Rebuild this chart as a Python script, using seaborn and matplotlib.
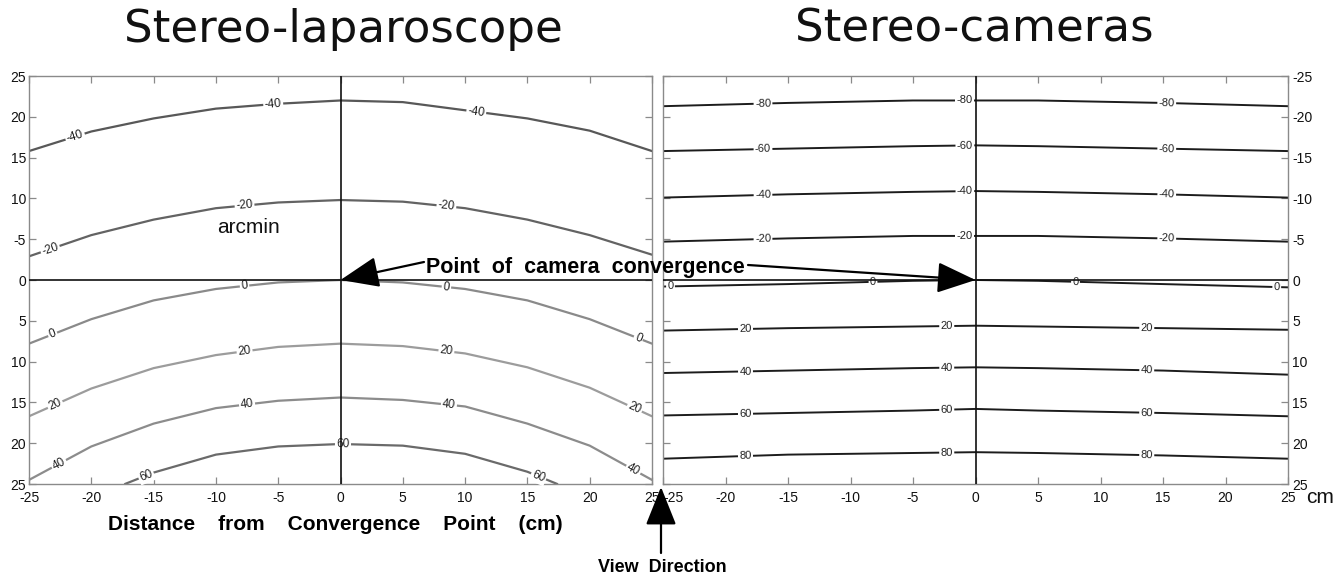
import numpy as np
import pandas as pd
import matplotlib
matplotlib.use("Agg")
import matplotlib.pyplot as plt
from matplotlib.patches import FancyArrowPatch
import seaborn as sns

# ---------------------------------------------------------------------------
# Iso-disparity contours (arcmin); depth positions in cm along the lateral axis
# ---------------------------------------------------------------------------
X_GRID = [-25, -20, -15, -10, -5, 0, 5, 10, 15, 20, 25]

LAP_LEVELS = [-40, -20, 0, 20, 40, 60]
LAP_M40 = [-15.8, -18.2, -19.8, -21.0, -21.6, -22.0, -21.8, -20.8, -19.8, -18.3, -15.8]
LAP_M20 = [-2.9, -5.5, -7.4, -8.8, -9.5, -9.8, -9.6, -8.8, -7.4, -5.5, -3.1]
LAP_0 = [7.8, 4.8, 2.5, 1.1, 0.3, 0.0, 0.3, 1.1, 2.5, 4.8, 7.8]
LAP_20 = [16.7, 13.3, 10.8, 9.2, 8.2, 7.8, 8.1, 9.0, 10.7, 13.2, 16.7]
LAP_40 = [24.5, 20.4, 17.6, 15.7, 14.8, 14.4, 14.7, 15.5, 17.6, 20.3, 24.5]
LAP_60_X = [-17.3, -15, -10, -5, 0, 5, 10, 15, 17.4]
LAP_60 = [25.0, 23.6, 21.4, 20.4, 20.1, 20.3, 21.3, 23.5, 25.0]

# where each laparoscope contour carries its inline value
LAP_LABEL_X = {
    -40: [-21.3, -5.4, 10.9],
    -20: [-23.3, -7.7, 8.5],
    0: [-23.1, -7.7, 8.5, 23.9],
    20: [-22.9, -7.7, 8.5, 23.6],
    40: [-22.6, -7.5, 8.7, 23.5],
    60: [-15.6, 0.2, 15.9],
}

CAM_X = [-25, -15, -5, 0, 5, 15, 25]
CAM_LEVELS = [-80, -60, -40, -20, 0, 20, 40, 60, 80]
CAM_M80 = [-21.3, -21.7, -22.0, -22.0, -22.0, -21.7, -21.3]
CAM_M60 = [-15.8, -16.1, -16.4, -16.5, -16.4, -16.1, -15.8]
CAM_M40 = [-10.1, -10.5, -10.8, -10.9, -10.8, -10.5, -10.1]
CAM_M20 = [-4.7, -5.1, -5.4, -5.4, -5.4, -5.1, -4.7]
CAM_0 = [0.8, 0.5, 0.1, 0.0, 0.1, 0.5, 0.9]
CAM_20 = [6.2, 5.9, 5.7, 5.6, 5.7, 5.9, 6.1]
CAM_40 = [11.4, 11.1, 10.8, 10.7, 10.8, 11.1, 11.6]
CAM_60 = [16.6, 16.3, 16.0, 15.8, 16.0, 16.3, 16.7]
CAM_80 = [21.9, 21.4, 21.2, 21.1, 21.2, 21.5, 21.9]

CAM_LABEL_X_NEG = [-17.0, -0.85, 15.3]
CAM_LABEL_X_POS = [-18.4, -2.3, 13.7]
CAM_LABEL_X_ZERO = [-24.4, -8.2, 8.0, 24.1]

TICKS = [-25, -20, -15, -10, -5, 0, 5, 10, 15, 20, 25]
LAP_YTICKLABELS = ["25", "20", "15", "10", "-5", "0", "5", "10", "15", "20", "25"]
CAM_YTICKLABELS = ["-25", "-20", "-15", "-10", "-5", "0", "5", "10", "15", "20", "25"]
XTICKLABELS = ["-25", "-20", "-15", "-10", "-5", "0", "5", "10", "15", "20", "25"]

TITLES = ["Stereo-laparoscope", "Stereo-cameras"]

# ---------------------------------------------------------------------------
lap_rows = [(X_GRID, LAP_M40, -40), (X_GRID, LAP_M20, -20), (X_GRID, LAP_0, 0),
            (X_GRID, LAP_20, 20), (X_GRID, LAP_40, 40), (LAP_60_X, LAP_60, 60)]
cam_rows = [(CAM_X, CAM_M80, -80), (CAM_X, CAM_M60, -60), (CAM_X, CAM_M40, -40),
            (CAM_X, CAM_M20, -20), (CAM_X, CAM_0, 0), (CAM_X, CAM_20, 20),
            (CAM_X, CAM_40, 40), (CAM_X, CAM_60, 60), (CAM_X, CAM_80, 80)]


def tidy(rows):
    frames = [pd.DataFrame({"x": xs, "depth": ys, "level": lev}) for xs, ys, lev in rows]
    return pd.concat(frames, ignore_index=True)


lap_df = tidy(lap_rows)
cam_df = tidy(cam_rows)

sns.set_theme(style="white")
plt.rcParams["font.family"] = ["Liberation Sans", "DejaVu Sans"]

W, H = 1344, 577
fig = plt.figure(figsize=(W / 100, H / 100), dpi=100)
ax_l = fig.add_axes([29 / W, 1 - 484 / H, 623 / W, 408 / H])
ax_r = fig.add_axes([663 / W, 1 - 484 / H, 625 / W, 408 / H])

lap_palette = {-40: "#585858", -20: "#636363", 0: "#8a8a8a", 20: "#9c9c9c",
               40: "#8c8c8c", 60: "#6a6a6a"}
cam_palette = {lev: "#1c1c1c" for lev in CAM_LEVELS}

sns.lineplot(data=lap_df, x="x", y="depth", hue="level", palette=lap_palette,
             units="level", estimator=None, sort=False, legend=False,
             linewidth=1.6, ax=ax_l)
sns.lineplot(data=cam_df, x="x", y="depth", hue="level", palette=cam_palette,
             units="level", estimator=None, sort=False, legend=False,
             linewidth=1.4, ax=ax_r)

for ax in (ax_l, ax_r):
    ax.set_xlim(-25, 25)
    ax.set_ylim(25, -25)
    ax.set_xlabel("")
    ax.set_ylabel("")
    ax.set_xticks(TICKS)
    ax.set_xticklabels(XTICKLABELS)
    ax.set_yticks(TICKS)
    for sp in ax.spines.values():
        sp.set_color("#8a8a8a")
        sp.set_linewidth(1.0)
    ax.tick_params(direction="in", length=5, width=0.9, color="#8a8a8a",
                   top=True, bottom=True, left=True, right=True,
                   labelsize=10, labelcolor="#111111")
    ax.tick_params(axis="x", pad=5)
    # crosshair through the convergence point
    ax.axhline(0, color="#111111", lw=1.2, zorder=4)
    ax.axvline(0, color="#111111", lw=1.2, zorder=4)

ax_l.set_yticklabels(LAP_YTICKLABELS)
ax_l.tick_params(axis="y", pad=2)
ax_r.set_yticklabels(CAM_YTICKLABELS)
ax_r.tick_params(axis="y", labelleft=False, labelright=True, pad=3)
# keep the first lateral label of the right panel clear of its neighbour
ax_r.get_xticklabels()[0].set_horizontalalignment("left")


def inline_labels(ax, xs, ys, lev, label_xs, size):
    xs = np.asarray(xs, float)
    ys = np.asarray(ys, float)
    for xl in label_xs:
        yl = np.interp(xl, xs, ys)
        y2 = np.interp(xl + 0.5, xs, ys)
        p1 = ax.transData.transform((xl, yl))
        p2 = ax.transData.transform((xl + 0.5, y2))
        ang = np.degrees(np.arctan2(p2[1] - p1[1], p2[0] - p1[0]))
        ax.text(xl, yl, str(lev), rotation=ang, rotation_mode="anchor",
                ha="center", va="center", fontsize=size, color="#222222",
                bbox=dict(boxstyle="square,pad=0.12", fc="white", ec="none"),
                zorder=3)


for xs, ys, lev in lap_rows:
    inline_labels(ax_l, xs, ys, lev, LAP_LABEL_X[lev], 8.5)

for xs, ys, lev in cam_rows:
    if lev == 0:
        lx = CAM_LABEL_X_ZERO
    elif lev < 0:
        lx = CAM_LABEL_X_NEG
    else:
        lx = CAM_LABEL_X_POS
    inline_labels(ax_r, xs, ys, lev, lx, 8)

# titles
fig.text(343 / W, 1 - 42 / H, TITLES[0], ha="center", va="baseline",
         fontsize=32.5, family=["DejaVu Sans"], color="#111111")
fig.text(974 / W, 1 - 42 / H, TITLES[1], ha="center", va="baseline",
         fontsize=32.5, family=["DejaVu Sans"], color="#111111")

bold = ["Liberation Sans", "DejaVu Sans"]

# annotation of the convergence point in both panels
fig.text(585 / W, 1 - 273 / H, "Point  of  camera  convergence", ha="center",
         va="baseline", fontsize=15.5, fontweight="bold", family=bold,
         color="black", zorder=6)
arrow_kw = dict(arrowstyle="-|>,head_length=1.5,head_width=0.6", color="black",
                lw=1.6, mutation_scale=16, shrinkA=0, shrinkB=0)
ax_l.annotate("", xy=(0, 0), xycoords="data", xytext=(424, H - 262),
              textcoords="figure pixels", arrowprops=arrow_kw, zorder=6,
              annotation_clip=False)
ax_r.annotate("", xy=(0, 0), xycoords="data", xytext=(748, H - 265),
              textcoords="figure pixels", arrowprops=arrow_kw, zorder=6,
              annotation_clip=False)

fig.text(248 / W, 1 - 233 / H, "arcmin", ha="center", va="baseline", fontsize=15,
         color="#111111")
fig.text(1306 / W, 1 - 503 / H, "cm", ha="left", va="baseline", fontsize=15,
         color="#111111")

fig.text(335 / W, 1 - 530 / H, "Distance    from    Convergence    Point    (cm)",
         ha="center", va="baseline", fontsize=15, fontweight="bold",
         family=bold, color="black")
fig.text(662 / W, 1 - 572 / H, "View  Direction", ha="center", va="baseline",
         fontsize=13, fontweight="bold", family=bold, color="black")
fig.patches.append(FancyArrowPatch(
    (661, H - 553), (661, H - 487), transform=None,
    arrowstyle="-|>,head_length=1.5,head_width=0.6", color="black", lw=1.6,
    mutation_scale=16, shrinkA=0, shrinkB=0))

fig.savefig("out.png", dpi=100, facecolor="white")
